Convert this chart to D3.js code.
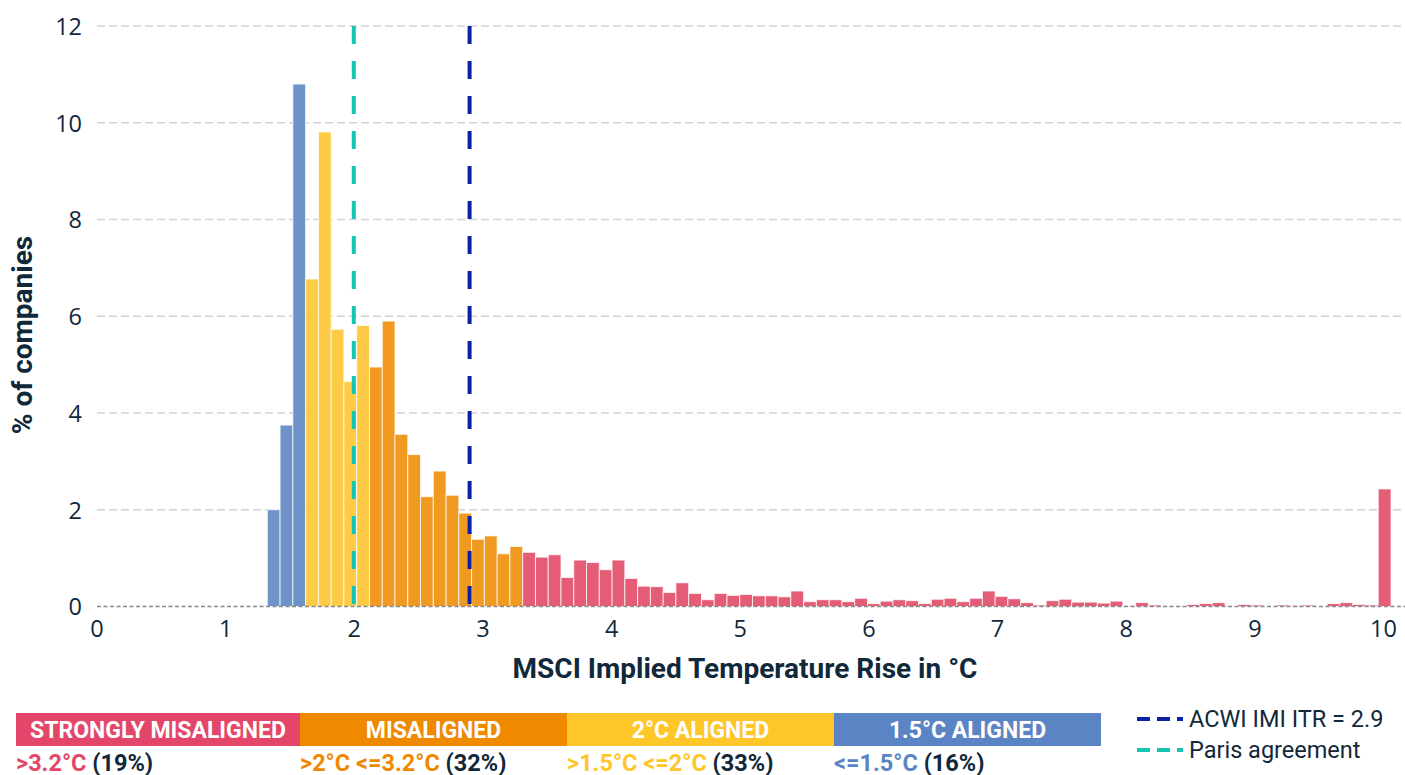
<!DOCTYPE html>
<html><head><meta charset="utf-8">
<script src="https://cdn.jsdelivr.net/npm/d3@7"></script>
<style>
html,body{margin:0;padding:0;background:#fff;}
svg{display:block;}
</style>
</head><body>
<svg id="chart" width="1405" height="775"></svg>
<script>
// ---- data ----
const bins = [1.3,1.4,1.5,1.6,1.7,1.8,1.9,2.0,2.1,2.2,2.3,2.4,2.5,2.6,2.7,2.8,2.9,3.0,3.1,3.2,
  3.3,3.4,3.5,3.6,3.7,3.8,3.9,4.0,4.1,4.2,4.3,4.4,4.5,4.6,4.7,4.8,4.9,5.0,5.1,5.2,
  5.3,5.4,5.5,5.6,5.7,5.8,5.9,6.0,6.1,6.2,6.3,6.4,6.5,6.6,6.7,6.8,6.9,7.0,7.1,7.2,
  7.3,7.4,7.5,7.6,7.7,7.8,7.9,8.0,8.1,8.2,8.3,8.4,8.5,8.6,8.7,8.8,8.9,9.0,9.1,9.2,
  9.3,9.4,9.5,9.6,9.7,9.8,9.9,10.0];
const pctCompanies = [2.0,3.75,10.8,6.77,9.81,5.73,4.65,5.81,4.95,5.90,3.56,3.14,2.27,2.80,2.30,1.93,1.39,1.46,1.09,1.24,
  1.12,1.02,1.07,0.60,0.96,0.91,0.76,0.96,0.58,0.42,0.41,0.29,0.49,0.27,0.14,0.27,0.23,0.25,0.22,0.22,
  0.20,0.32,0.10,0.14,0.14,0.10,0.17,0.06,0.11,0.14,0.12,0.06,0.15,0.17,0.10,0.17,0.32,0.21,0.16,0.08,
  0.03,0.12,0.15,0.09,0.09,0.07,0.11,0.02,0.08,0.03,0.01,0.01,0.04,0.06,0.08,0.01,0.04,0.03,0.0,0.03,
  0.02,0.03,0.0,0.06,0.08,0.04,0.03,2.43];
const xTicks = [0,1,2,3,4,5,6,7,8,9,10];
const yTicks = [0,2,4,6,8,10,12];
const refLines = [
  {name:"ACWI IMI ITR = 2.9", value:2.9, color:"#0B22A8"},
  {name:"Paris agreement", value:2.0, color:"#14C6B2"}
];
const groups = [
  {label:"STRONGLY MISALIGNED", range:">3.2°C", share:"(19%)", color:"#E4466A", bar:"#E55C76"},
  {label:"MISALIGNED", range:">2°C <=3.2°C", share:"(32%)", color:"#EE8900", bar:"#F09A22"},
  {label:"2°C ALIGNED", range:">1.5°C <=2°C", share:"(33%)", color:"#FFC629", bar:"#FDCB45"},
  {label:"1.5°C ALIGNED", range:"<=1.5°C", share:"(16%)", color:"#5B84C4", bar:"#6E93C8"}
];
const groupOf = v => v <= 1.5 ? 3 : v <= 2.0 ? 2 : v <= 3.2 ? 1 : 0;

// ---- chart ----
const svg = d3.select("#chart");
const ink = "#10283A";
const x = d3.scaleLinear().domain([0,10]).range([96.5,1383]);
const xb = d3.scaleBand().domain(bins).range([267.3,1391]).padding(0);
const y = d3.scaleLinear().domain([0,12]).range([606.5,26]);

// grid
svg.append("g").selectAll("line").data(yTicks.filter(d=>d>0)).join("line")
  .attr("x1",97).attr("x2",1405).attr("y1",d=>y(d)).attr("y2",d=>y(d))
  .attr("stroke","#d3d3d3").attr("stroke-width",1.6).attr("stroke-dasharray","8,4");

// bars
svg.append("g").selectAll("rect").data(bins).join("rect")
  .attr("x",d=>xb(d)).attr("width",xb.bandwidth())
  .attr("y",(d,i)=>y(pctCompanies[i])).attr("height",(d,i)=>y(0)-y(pctCompanies[i]))
  .attr("fill",d=>groups[groupOf(d)].bar)
  .attr("stroke","rgba(255,255,255,0.75)").attr("stroke-width",1);

// baseline
svg.append("line").attr("x1",97).attr("x2",1405).attr("y1",y(0)).attr("y2",y(0))
  .attr("stroke","#8a8a8a").attr("stroke-width",1.3).attr("stroke-dasharray","4,2.5");

// reference lines
svg.append("g").selectAll("line").data(refLines).join("line")
  .attr("x1",d=>x(d.value)).attr("x2",d=>x(d.value)).attr("y1",y(12)).attr("y2",y(0))
  .attr("stroke",d=>d.color).attr("stroke-width",4).attr("stroke-dasharray","18,17");

// axis labels (via d3 axes)
const yAxis = svg.append("g").attr("transform","translate(82,0)")
  .call(d3.axisLeft(y).tickValues(yTicks).tickSize(0).tickPadding(0).tickFormat(d3.format("d")));
yAxis.select(".domain").remove();
yAxis.selectAll("text").attr("font-family","'Open Sans', sans-serif").attr("font-size",23.5)
  .attr("fill",ink).attr("dy","0.36em");

const xAxis = svg.append("g").attr("transform","translate(0,616)")
  .call(d3.axisBottom(x).tickValues(xTicks).tickSize(0).tickPadding(0).tickFormat(d3.format("d")));
xAxis.select(".domain").remove();
xAxis.selectAll("text").attr("font-family","'Open Sans', sans-serif").attr("font-size",23.5)
  .attr("fill",ink).attr("dy","0.9em");

// axis titles
svg.append("text").attr("x",745).attr("y",678).attr("text-anchor","middle")
  .attr("font-family","Roboto, sans-serif").attr("font-weight",700).attr("font-size",28)
  .attr("fill",ink).text("MSCI Implied Temperature Rise in °C");
svg.append("text").attr("transform","translate(32,335) rotate(-90)").attr("text-anchor","middle")
  .attr("font-family","Roboto, sans-serif").attr("font-weight",700).attr("font-size",28)
  .attr("fill",ink).text("% of companies");

// category legend
const legX = d3.scaleOrdinal().domain(groups.map(g=>g.label)).range([16,300,567,834]);
const legEnd = 1101;
const legW = (d,i) => (i < groups.length-1 ? legX(groups[i+1].label) : legEnd) - legX(d.label);
const lg = svg.append("g").selectAll("g").data(groups).join("g")
  .attr("transform",d=>`translate(${legX(d.label)},0)`);
lg.append("rect").attr("x",0).attr("y",713).attr("width",legW).attr("height",33)
  .attr("fill",d=>d.color);
lg.append("text").attr("x",(d,i)=>legW(d,i)/2).attr("y",737.5).attr("text-anchor","middle")
  .attr("font-family","Roboto, sans-serif").attr("font-weight",700).attr("font-size",23)
  .attr("fill","#fff").text(d=>d.label);
const sub = lg.append("text").attr("x",0).attr("y",770.5)
  .attr("font-family","Roboto, sans-serif").attr("font-weight",700).attr("font-size",23.5);
sub.append("tspan").attr("fill",d=>d.color).text(d=>d.range+" ");
sub.append("tspan").attr("fill",ink).text(d=>d.share);

// line legend
const rl = svg.append("g").selectAll("g").data(refLines).join("g")
  .attr("transform",(d,i)=>`translate(1137,${719+i*31})`);
rl.append("line").attr("x1",0).attr("x2",46).attr("y1",0).attr("y2",0)
  .attr("stroke",d=>d.color).attr("stroke-width",4).attr("stroke-dasharray","13,7");
rl.append("text").attr("x",52).attr("y",0).attr("dy","0.36em")
  .attr("font-family","Roboto, sans-serif").attr("font-size",23.5).attr("fill",ink)
  .text(d=>d.name);
</script>
</body></html>
